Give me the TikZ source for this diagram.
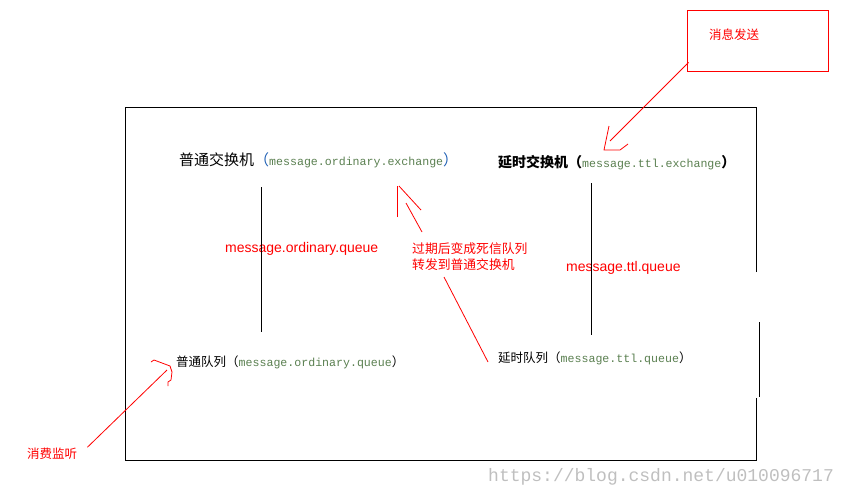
\documentclass[tikz,border=0pt]{standalone}
\usepackage{fontspec}
\setmainfont{Noto Sans CJK SC}
\newfontfamily\monofnt{Liberation Mono}
\newfontfamily\arialfnt{Liberation Sans}
\usetikzlibrary{positioning}
\definecolor{codegreen}{RGB}{90,127,80}
\definecolor{parblue}{RGB}{30,95,180}
\newcommand\qname[1]{{\monofnt\mdseries\fontsize{11.6}{13}\selectfont\color{codegreen}#1}}
\tikzset{lbl/.style={inner sep=0pt,anchor=base west,font=\fontsize{12.5}{15}\selectfont},
	 redtxt/.style={lbl,text=red},
	 redline/.style={draw=red,line width=0.8pt},
	 bline/.style={draw=black,line width=1pt},
	 sendbox/.style={draw=red,line width=1pt,minimum width=141,minimum height=61,inner sep=0pt}
	 }

\begin{document}
\begin{tikzpicture}[x=1pt,y=-1pt]% delay queue via dead letters
        \useasboundingbox (0,0) rectangle (847,496);
        \draw[bline] (756,272) -- (756,107) -- (125,107) -- (125,460) -- (756,460) -- (756,398);
        \draw[bline] (759,322) -- (759,397);
        \node[sendbox] (send) at (757.5,40.5) {};
        \node[redtxt] (sendtxt) at (709,39) {消息发送};
        \node[lbl,font=\fontsize{15}{18}\selectfont] (oex) at (179,165) {普通交换机{\color{parblue}（}\qname{message.ordinary.exchange}{\color{parblue}）}};
        \node[lbl,font=\bfseries\fontsize{14}{17}\selectfont] (tex) at (498,167) {延时交换机（\qname{message.ttl.exchange}）};
        \node[lbl] (oq) at (176,366) {普通队列（\qname{message.ordinary.queue}）};
        \node[lbl] (tq) at (498,362) {延时队列（\qname{message.ttl.queue}）};
        \node[redtxt,font=\arialfnt\fontsize{14}{17}\selectfont] (oql) at (225,252) {message.ordinary.queue};
        \node[redtxt,font=\arialfnt\fontsize{14}{17}\selectfont] (tql) at (566,271) {message.ttl.queue};
        \node[redtxt,font=\fontsize{12.8}{16}\selectfont] (note) at (412,253) {过期后变成死信队列};
        \node[redtxt,font=\fontsize{12.8}{16}\selectfont] (note2) [below=16pt of note.base west,anchor=base west] {转发到普通交换机};
        \node[redtxt] (cons) at (27,458) {消费监听};
        \node[lbl,text=gray!50,font=\monofnt\fontsize{18}{20}\selectfont] (mark) at (488,481) {https://blog.csdn.net/u010096717};
        \draw[bline] (261,187) -- (261,332);
        \draw[bline] (591,183) -- (591,335);
        \coordinate (sendtip) at (610,141);
        \coordinate (oextip) at (406,203);
        \coordinate (notetop) at (422,232);
        \coordinate (notefoot) at (444,277);
        \coordinate (tqend) at (488,362);
        \coordinate (oqtip) at (167,370);
        \draw[redline] (send.south west) ++(2,-9) -- (sendtip);
        \draw[redline] (609,126) -- (604,150) -- (620,150) -- (628,144);
        \draw[redline] (notetop) -- (oextip);
        \draw[redline] (397,217) -- (397,186); \draw[redline] (399,186) -- (421,210);
        \draw[redline] (notefoot) -- (tqend);
        \draw[redline] ([xshift=10pt,yshift=6pt]cons.east) -- (oqtip);
        \draw[redline] (151,362) -- (154,360) -- (162,363) -- (170,366) -- (172,372) -- (171,380) -- (168,382) -- (168,386);
\end{tikzpicture}
\end{document}
